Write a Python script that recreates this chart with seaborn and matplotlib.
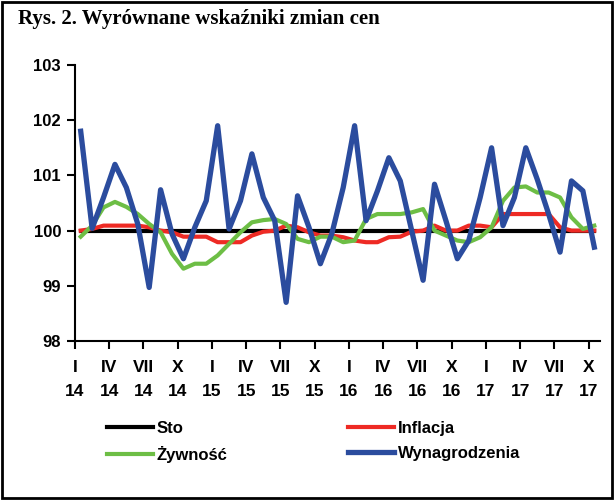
import matplotlib
matplotlib.use("Agg")
import matplotlib.pyplot as plt
import seaborn as sns
import pandas as pd
import numpy as np

# monthly values, I 2014 .. X 2017 (46 months)
inflacja = [100.00, 100.03, 100.09, 100.09, 100.09, 100.09, 100.06, 100.00, 99.97, 99.89,
            99.89, 99.89, 99.79, 99.79, 99.79, 99.91, 99.98, 100.00, 100.09, 100.06,
            99.97, 99.91, 99.91, 99.88, 99.82, 99.79, 99.79, 99.88, 99.89, 99.98,
            100.00, 100.09, 100.00, 100.00, 100.09, 100.09, 100.06, 100.30, 100.30, 100.30,
            100.30, 100.30, 100.06, 100.00, 100.00, 100.00]
zywnosc = [99.89, 100.09, 100.42, 100.52, 100.43, 100.30, 100.12, 99.97, 99.58, 99.31,
           99.40, 99.40, 99.55, 99.76, 99.97, 100.15, 100.19, 100.21, 100.12, 99.85,
           99.79, 99.89, 99.89, 99.79, 99.82, 100.21, 100.30, 100.30, 100.30, 100.33,
           100.39, 100.00, 99.91, 99.82, 99.79, 99.88, 100.06, 100.54, 100.78, 100.80,
           100.69, 100.69, 100.60, 100.24, 100.03, 100.09]
wynagrodzenia = [101.80, 100.04, 100.60, 101.20, 100.78, 100.12, 98.97, 100.74, 99.94, 99.49,
                 100.06, 100.54, 101.90, 100.03, 100.54, 101.39, 100.60, 100.18, 98.70, 100.63,
                 100.06, 99.40, 99.94, 100.78, 101.90, 100.18, 100.72, 101.32, 100.90, 100.00,
                 99.10, 100.84, 100.18, 99.49, 99.82, 100.60, 101.50, 100.09, 100.60, 101.50,
                 100.93, 100.30, 99.61, 100.90, 100.72, 99.70]
sto = [100.0] * 46

months = ["I", "IV", "VII", "X"]
years = ["14", "15", "16", "17"]
tick_labels = [f"{m}\n{y}" for y in years for m in months]

x = np.arange(46) + 0.5

plt.rcParams["font.family"] = ["Liberation Sans", "DejaVu Sans"]
plt.rcParams["font.weight"] = "bold"

fig = plt.figure(figsize=(6.14, 5.0), dpi=100)
ax = fig.add_axes([75 / 614, 1 - 341 / 500, 525 / 614, 276 / 500])

series = [
    ("Sto", sto, "#000000", 3.0),
    ("Inflacja", inflacja, "#EE2A24", 3.0),
    ("Żywność", zywnosc, "#6DBE45", 3.0),
    ("Wynagrodzenia", wynagrodzenia, "#2B4C9E", 3.8),
]
for name, vals, col, lw in series:
    df = pd.DataFrame({"x": x, "y": vals})
    sns.lineplot(data=df, x="x", y="y", ax=ax, color=col, linewidth=lw,
                 label=name, legend=False)

ax.set_xlim(0, 46)
ax.set_ylim(98, 103)
ax.set_xticks(np.arange(0, 46, 3))
ax.set_xticklabels(tick_labels, linespacing=1.7)
ax.set_yticks([98, 99, 100, 101, 102, 103])
ax.set_xlabel("")
ax.set_ylabel("")
for s in ["top", "right"]:
    ax.spines[s].set_visible(False)
ax.spines["left"].set_linewidth(1.5)
ax.spines["bottom"].set_linewidth(1.5)
ax.tick_params(axis="x", direction="out", length=6, width=1.5, pad=8, labelsize=12.5)
ax.tick_params(axis="y", direction="out", length=6, width=1.5, pad=4, labelsize=12)

handles, labels = ax.get_legend_handles_labels()
order = ["Sto", "Żywność", "Inflacja", "Wynagrodzenia"]
hmap = dict(zip(labels, handles))
leg = fig.legend([hmap[k] for k in order], order, ncol=2, frameon=False,
                 loc="upper left", bbox_to_anchor=(100 / 614, 1 - 414 / 500),
                 fontsize=12, handlelength=2.8, handletextpad=0.2,
                 columnspacing=7.2, labelspacing=0.6, borderaxespad=0)

fig.text(18 / 614, 1 - 24 / 500, "Rys. 2. Wyrównane wskaźniki zmian cen",
         family=["Liberation Serif", "DejaVu Serif"], weight="bold", fontsize=15,
         va="baseline", ha="left")

fig.patches.append(plt.Rectangle((0.004, 0.004), 0.992, 0.992, transform=fig.transFigure,
                                 fill=False, edgecolor="black", linewidth=2))

fig.savefig("out.png", dpi=100)
